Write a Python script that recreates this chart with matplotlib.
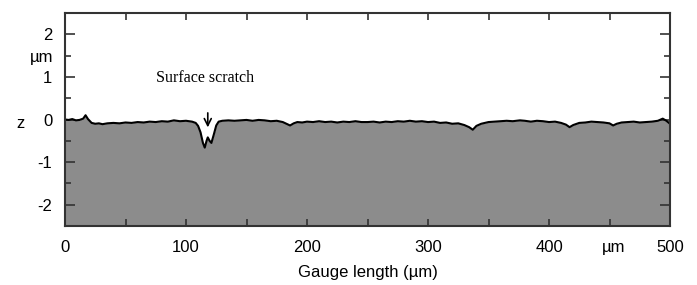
import numpy as np
import matplotlib.pyplot as plt
from matplotlib.ticker import MultipleLocator

plt.rcParams['font.family'] = ['Liberation Sans', 'DejaVu Sans']
plt.rcParams['axes.unicode_minus'] = False

# surface profile (x in um, z in um)
x_um = [0, 3, 6, 9, 12, 15, 17, 19, 22, 25, 28, 31, 35, 40, 45, 50, 55, 60, 65, 70,
        75, 80, 85, 90, 95, 100, 105, 108, 110, 112, 114, 115.5, 117, 118, 119.5,
        121, 123, 125, 127, 130, 135, 140, 145, 150, 155, 160, 165, 170, 175, 180,
        183, 186, 189, 192, 196, 200, 205, 210, 215, 220, 225, 230, 235, 240, 245,
        250, 255, 260, 265, 270, 275, 280, 285, 290, 295, 300, 305, 310, 315, 320,
        325, 330, 334, 337, 340, 344, 350, 355, 360, 365, 370, 376, 380, 385, 390,
        395, 400, 405, 410, 414, 417, 420, 425, 430, 435, 440, 445, 450, 453, 456,
        460, 465, 470, 475, 480, 485, 490, 494, 497, 500]
z_um = [0.0, -0.01, 0.01, -0.02, -0.01, 0.02, 0.10, 0.01, -0.08, -0.10, -0.09, -0.11,
        -0.09, -0.08, -0.09, -0.07, -0.08, -0.06, -0.07, -0.05, -0.06, -0.04, -0.05,
        -0.02, -0.04, -0.03, -0.05, -0.08, -0.15, -0.30, -0.55, -0.66, -0.50, -0.42,
        -0.50, -0.55, -0.35, -0.14, -0.05, -0.03, -0.02, -0.03, -0.02, -0.01, -0.03,
        -0.01, -0.02, -0.04, -0.03, -0.06, -0.10, -0.14, -0.09, -0.06, -0.07, -0.05,
        -0.06, -0.04, -0.06, -0.05, -0.07, -0.05, -0.06, -0.04, -0.06, -0.06, -0.05,
        -0.07, -0.05, -0.06, -0.04, -0.05, -0.03, -0.05, -0.04, -0.06, -0.05, -0.08,
        -0.07, -0.10, -0.09, -0.13, -0.18, -0.24, -0.15, -0.10, -0.06, -0.05, -0.04,
        -0.03, -0.04, -0.02, -0.03, -0.05, -0.03, -0.04, -0.06, -0.05, -0.08, -0.12,
        -0.18, -0.13, -0.08, -0.07, -0.05, -0.06, -0.07, -0.09, -0.14, -0.10, -0.07,
        -0.06, -0.05, -0.07, -0.06, -0.05, -0.03, 0.02, -0.03, -0.10]

xticks = [0, 100, 200, 300, 400, 500]
yticks = [-2, -1, 0, 1, 2]

fig = plt.figure(figsize=(6.97, 2.85), dpi=100)
ax = fig.add_axes([65/697, 1 - 226/285, 605/697, 213/285])

ax.fill_between(x_um, z_um, -2.5, color='#8c8c8c', lw=0)
ax.plot(x_um, z_um, color='black', lw=1.5)

ax.set_xlim(0, 500)
ax.set_ylim(-2.5, 2.5)
ax.set_xticks(xticks)
ax.set_yticks(yticks)
ax.xaxis.set_minor_locator(MultipleLocator(50))
ax.yaxis.set_minor_locator(MultipleLocator(0.5))
ax.tick_params(which='both', direction='in', top=True, right=True, color='#333333', width=1.2)
ax.tick_params(axis='y', which='major', length=7, pad=9, labelsize=12)
ax.tick_params(axis='y', which='minor', length=4)
ax.tick_params(axis='x', which='both', length=5, pad=10, labelsize=12)
for s in ax.spines.values():
    s.set_color('#333333')
    s.set_linewidth(1.5)

ax.text(-19, 1.45, 'µm', ha='center', va='center', fontsize=12)
ax.text(-37, -0.1, 'z', ha='center', va='center', fontsize=12)
ax.text(453, -3.0, 'µm', ha='center', va='center', fontsize=12)
ax.set_xlabel('Gauge length (µm)', fontsize=12, labelpad=7)

ax.text(75, 0.98, 'Surface scratch', family='Liberation Serif', fontsize=11.5,
        ha='left', va='center')
ax.annotate('', xy=(118, -0.25), xytext=(118, 0.22),
            arrowprops=dict(arrowstyle='->,head_length=0.5,head_width=0.25',
                            color='black', lw=1.2))

fig.savefig('out.png', dpi=100)
